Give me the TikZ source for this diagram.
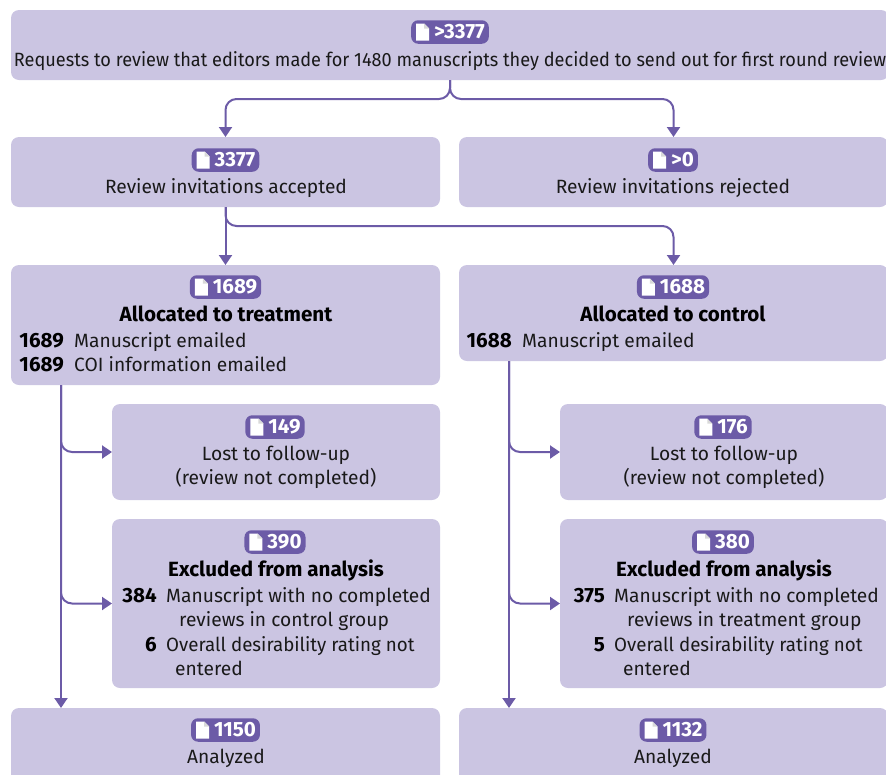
\documentclass[tikz,border=0pt]{standalone}
\usepackage{fontspec}
\setmainfont{Fira Sans}
\usetikzlibrary{arrows.meta}
\definecolor{boxfill}{HTML}{CBC5E2}
\definecolor{accent}{HTML}{6C5BA7}
\definecolor{pagefold}{HTML}{D9D9D9}
\newcommand{\bodyfont}{\fontsize{19.2}{22}\selectfont}
\newcommand{\boldfont}{\fontsize{20.6}{22}\selectfont\bfseries}
\tikzset{
  x=1pt,y=-1pt,
  flowbox/.style={fill=boxfill,rounded corners=8pt,anchor=north west,inner sep=0pt,outer sep=0pt},
  pillbox/.style={fill=accent,rounded corners=7pt,text=white,inner xsep=4pt,inner ysep=0pt,minimum height=23.5pt,outer sep=0pt,font=\boldfont},
  body/.style={anchor=base,inner sep=0pt,font=\bodyfont,text=black!90},
  head/.style={anchor=base,inner sep=0pt,font=\boldfont,text=black},
  numlab/.style={anchor=base east,inner sep=0pt,font=\boldfont,text=black},
  rowlab/.style={anchor=base west,inner sep=0pt,font=\bodyfont,text=black!90},
  link/.style={draw=accent,line width=2pt,rounded corners=11pt,-{Triangle[length=10pt,width=13pt]}},
}
% name, x, y, w, h
\newcommand{\flowbox}[5]{\node[flowbox,minimum width=#4pt,minimum height=#5pt] (#1) at (#2,#3) {};}
% name, cx, cy, text
\newcommand{\countpill}[4]{%
  \node[pillbox] (#1) at (#2,#3) {\hspace{19pt}#4};
  \fill[white] ([shift={(5,3.3)}]#1.north west) -- ++(8,0) -- ++(5,5) -- ++(0,12) -- ++(-13,0) -- cycle;
  \fill[pagefold] ([shift={(13,3.3)}]#1.north west) -- ++(5,5) -- ++(-5,0) -- cycle;
}
\begin{document}
\begin{tikzpicture}
\useasboundingbox (0,0) rectangle (886,774);
\clip (0,0) rectangle (886,774);
\flowbox{top}{11}{10}{878}{70}
\flowbox{acc}{11}{137}{429}{70}
\flowbox{rej}{459}{137}{429}{70}
\flowbox{trt}{11}{265}{429}{120}
\flowbox{ctl}{459}{265}{429}{96}
\flowbox{lostA}{112}{404}{328}{96}
\flowbox{lostB}{560}{404}{328}{96}
\flowbox{exA}{112}{519}{328}{169}
\flowbox{exB}{560}{519}{328}{169}
\flowbox{anA}{11}{708}{429}{80}
\flowbox{anB}{459}{708}{429}{80}

\coordinate (trunkA) at ([xshift=50pt]trt.south west);
\coordinate (trunkB) at ([xshift=50pt]ctl.south west);
\coordinate (anAin) at (trunkA |- anA.north);
\coordinate (anBin) at (trunkB |- anB.north);

\draw[link] (top.south) -- ++(0,19) -| (acc.north);
\draw[link] (top.south) -- ++(0,19) -| (rej.north);
\draw[link,rounded corners=0pt] (acc.south) -- (trt.north);
\draw[link] (acc.south) -- ++(0,19) -| (ctl.north);
\draw[link,rounded corners=0pt] (trunkA) -- (anAin);
\draw[link,rounded corners=0pt] (trunkB) -- (anBin);
\draw[link] (trunkA) |- (lostA.west);
\draw[link] (trunkA) |- (exA.west);
\draw[link] (trunkB) |- (lostB.west);
\draw[link] (trunkB) |- (exB.west);

\countpill{p0}{450}{32}{>3377}
\node[body] (t0) at (450,66) {\scalebox{0.945}[1]{Requests to review that editors made for 1480 manuscripts they decided to send out for first round review}};
\countpill{p1}{225.5}{160}{3377}
\node[body] (t1) at (226,193) {Review invitations accepted};
\countpill{p2}{673}{160}{>0}
\node[body] (t2) at (673,193) {Review invitations rejected};

\countpill{p3}{225.5}{287}{1689}
\node[head] (t3) at (226,321) {Allocated to treatment};
\node[numlab] (n3a) at (64,347) {1689};
\node[rowlab] (r3a) at (74,347) {Manuscript emailed};
\node[numlab] (n3b) at (64,371) {1689};
\node[rowlab] (r3b) at (74,371) {COI information emailed};

\countpill{p4}{673}{287}{1688}
\node[head] (t4) at (673,321) {Allocated to control};
\node[numlab] (n4a) at (512,347) {1688};
\node[rowlab] (r4a) at (522,347) {Manuscript emailed};

\countpill{p5}{275}{427}{149}
\node[body] (t5a) at (276,460) {Lost to follow-up};
\node[body] (t5b) at (276,484) {(review not completed)};
\countpill{p6}{723}{427}{176}
\node[body] (t6a) at (724,460) {Lost to follow-up};
\node[body] (t6b) at (724,484) {(review not completed)};

\countpill{p7}{275}{542}{390}
\node[head] (t7) at (276,576) {Excluded from analysis};
\node[numlab] (n7a) at (157,602) {384};
\node[rowlab] (r7a) at (166,602) {Manuscript with no completed};
\node[rowlab] (r7b) at (179,626) {reviews in control group};
\node[numlab] (n7c) at (157,651) {6};
\node[rowlab] (r7c) at (166,651) {\scalebox{0.976}[1]{Overall desirability rating not}};
\node[rowlab] (r7d) at (175,675) {entered};

\countpill{p8}{723}{542}{380}
\node[head] (t8) at (724,576) {Excluded from analysis};
\node[numlab] (n8a) at (605,602) {375};
\node[rowlab] (r8a) at (614,602) {Manuscript with no completed};
\node[rowlab] (r8b) at (627,626) {reviews in treatment group};
\node[numlab] (n8c) at (605,651) {5};
\node[rowlab] (r8c) at (614,651) {\scalebox{0.976}[1]{Overall desirability rating not}};
\node[rowlab] (r8d) at (623,675) {entered};

\countpill{p9}{225.5}{730}{1150}
\node[body] (t9) at (226,763) {Analyzed};
\countpill{p10}{673}{730}{1132}
\node[body] (t10) at (673,763) {Analyzed};
\end{tikzpicture}
\end{document}
